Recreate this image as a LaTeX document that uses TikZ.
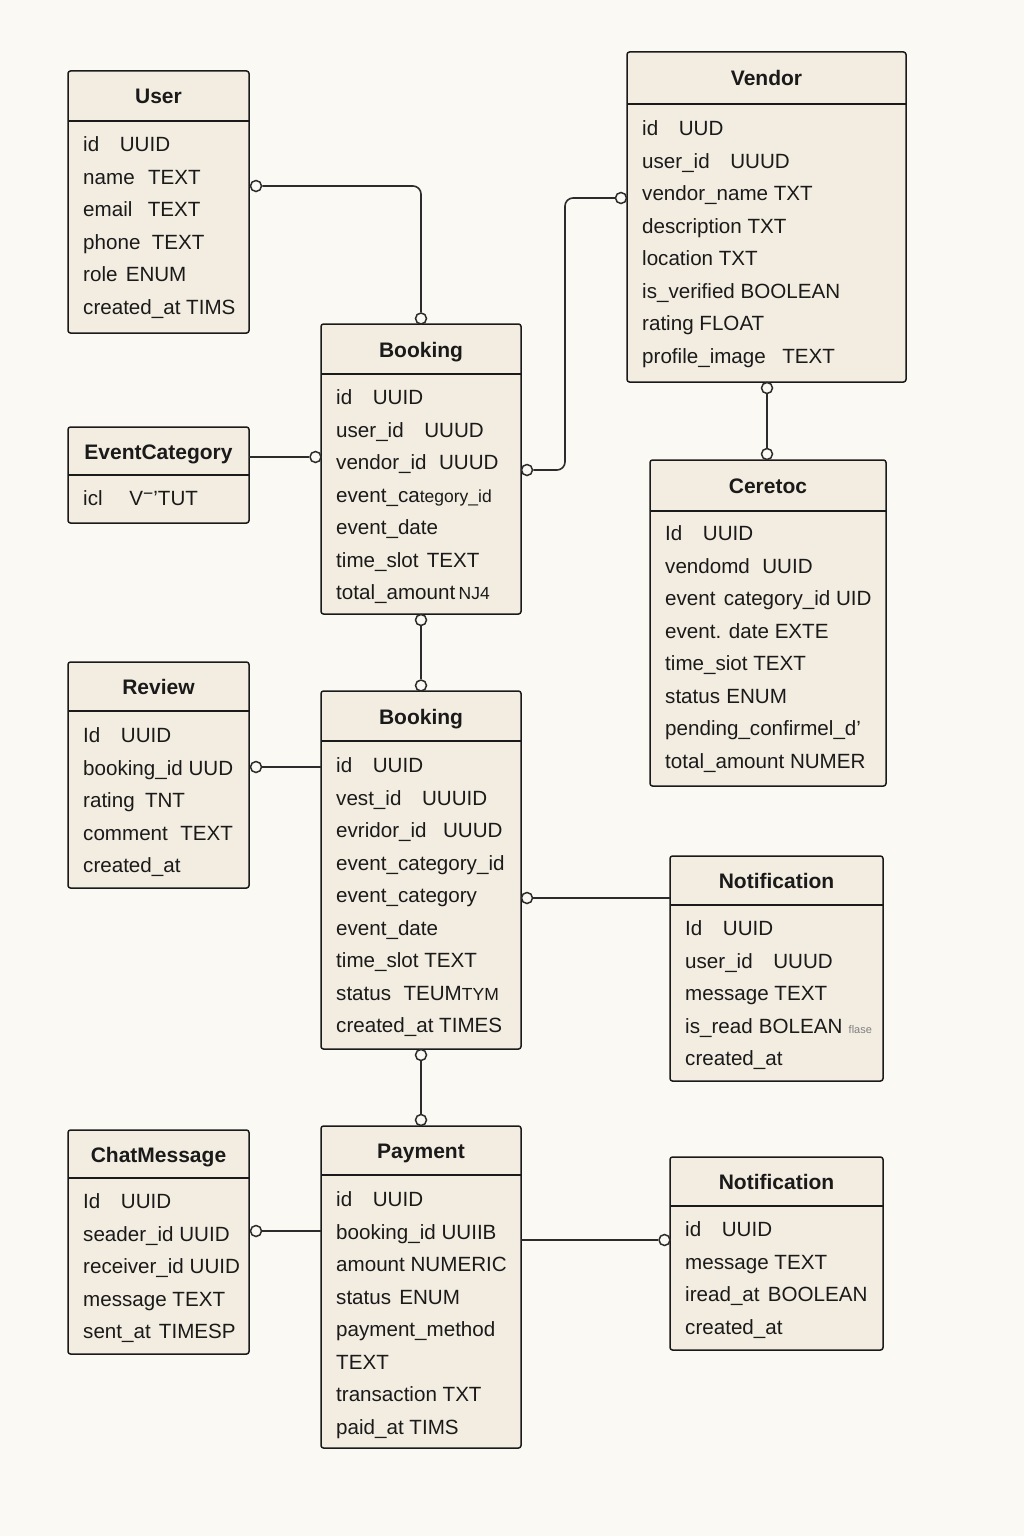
\documentclass[tikz,border=0pt]{standalone}
\usepackage{fontspec}
\setmainfont{Liberation Sans}
\usetikzlibrary{calc}

\definecolor{pagebg}{HTML}{FBF9F4}
\definecolor{boxfill}{HTML}{F3EDE1}
\definecolor{ink}{HTML}{1A1A1A}
\definecolor{wire}{HTML}{2C2C2C}

% extra horizontal gap between a column name and its type
\newcommand{\gp}[1]{\hspace{#1em}}
\newcommand{\smallf}{\fontsize{17.5}{18}\selectfont}
\newcommand{\tinyf}{\fontsize{11}{12}\selectfont\color{gray}}

\tikzset{
  entity/.style={draw=ink, line width=1.5pt, fill=boxfill, rounded corners=2.5pt, inner sep=0pt, outer sep=0pt},
  rule/.style={draw=ink, line width=1.5pt},
  title/.style={font=\fontsize{21}{24}\selectfont\bfseries, text=ink, anchor=base, inner sep=0pt},
  field/.style={font=\fontsize{20.6}{24}\selectfont, text=ink, anchor=base west, inner sep=0pt},
  link/.style={draw=wire, line width=1.6pt, rounded corners=8pt},
  port/.style={circle, draw=wire, line width=1.5pt, fill=pagebg, minimum size=11pt, inner sep=0pt},
}

% #1 name, #2 left, #3 top, #4 right, #5 bottom, #6 header rule, #7 title, #8 first row, #9 rows
\newcommand{\entity}[9]{%
  \node[entity, minimum width={(#4-#2)*1pt}, minimum height={(#5-#3)*1pt}] (#1) at ({(#2+#4)/2},{(#3+#5)/2}) {};
  \draw[rule] (#1.west |- 0,#6) -- (#1.east |- 0,#6);
  \node[title] (#1-title) at ({(#2+#4)/2},{(#3+#6)/2+8}) {#7};
  \foreach \f [count=\i from 0] in {#9} {\node[field] (#1-r\i) at ({#2+15},{#8+\i*32.5+7.6}) {\f};}
}

\begin{document}
\begin{tikzpicture}[x=1pt,y=-1pt]
\fill[pagebg] (0,0) rectangle (1024,1536);
\useasboundingbox (0,0) rectangle (1024,1536);

% ---- tables ----
\entity{user}{68}{71}{249}{333}{121}{User}{144}{%
  id\gp{1}UUID, name\gp{.65}TEXT, email\gp{.75}TEXT, phone\gp{.55}TEXT, role\gp{.4}ENUM, created\_at TIMS}

\entity{vendor}{627}{52}{906}{382}{104}{Vendor}{128}{%
  id\gp{1}UUD, user\_id\gp{1}UUUD, vendor\_name TXT, description TXT, location TXT,
  is\_verified BOOLEAN, rating FLOAT, profile\_image\gp{.8}TEXT}

\entity{evcat}{68}{427}{249}{523}{475}{EventCategory}{498}{%
  icl\gp{1.3}V\raisebox{.3em}{\smallf −}’TUT}

\entity{booking1}{321}{324}{521}{614}{374}{Booking}{397}{%
  id\gp{1}UUID, user\_id\gp{1}UUUD, vendor\_id\gp{.6}UUUD, event\_ca{\smallf tegory\_id},
  event\_date, time\_slot\gp{.4}TEXT, total\_amount\,{\smallf NJ4}}

\entity{ceretoc}{650}{460}{886}{786}{511}{Ceretoc}{533}{%
  Id\gp{1}UUID, vendomd\gp{.6}UUID, event\gp{.4}category\_id UID, event. date EXTE,
  time\_siot TEXT, status\gp{.3}ENUM, pending\_confirmel\_d’, total\_amount NUMER}

\entity{review}{68}{662}{249}{888}{711}{Review}{735}{%
  Id\gp{1}UUID, booking\_id UUD, rating\gp{.5}TNT, comment\gp{.6}TEXT, created\_at}

\entity{booking2}{321}{691}{521}{1049}{741}{Booking}{765}{%
  id\gp{1}UUID, vest\_id\gp{1}UUUID, evridor\_id\gp{.8}UUUD, event\_category\_id,
  event\_category, event\_date, time\_slot TEXT, status\gp{.6}TEUM{\smallf TYM}, created\_at TIMES}

\entity{notif1}{670}{856}{883}{1081}{905}{Notification}{928}{%
  Id\gp{1}UUID, user\_id\gp{1}UUUD, message TEXT, is\_read\gp{.3}BOLEAN\gp{.3}{\tinyf flase}, created\_at}

\entity{chat}{68}{1130}{249}{1354}{1178}{ChatMessage}{1201}{%
  Id\gp{1}UUID, seader\_id UUID, receiver\_id UUID, message TEXT, sent\_at\gp{.4}TIMESP}

\entity{payment}{321}{1126}{521}{1448}{1175}{Payment}{1199}{%
  id\gp{1}UUID, booking\_id UUIIB, amount NUMERIC, status\gp{.4}ENUM, payment\_method,
  TEXT, transaction TXT, paid\_at TIMS}

\entity{notif2}{670}{1157}{883}{1350}{1206}{Notification}{1229}{%
  id\gp{1}UUID, message TEXT, iread\_at\gp{.4}BOOLEAN, created\_at}

% ---- connection ports ----
\node[port] (pUser)     at (256,186)   {};
\node[port] (pBkTop)    at (421,318.5) {};
\node[port] (pBkLeft)   at (315.5,457) {};
\node[port] (pBkRight)  at (527,470)   {};
\node[port] (pVendor)   at (621,198)   {};
\node[port] (pVdBottom) at (767,388)   {};
\node[port] (pCrTop)    at (767,454)   {};
\node[port] (pBkBottom) at (421,620)   {};
\node[port] (pBk2Top)   at (421,685.5) {};
\node[port] (pReview)   at (256,767)   {};
\node[port] (pBk2Right) at (527,898)   {};
\node[port] (pBk2Bot)   at (421,1055)  {};
\node[port] (pPayTop)   at (421,1120)  {};
\node[port] (pChat)     at (256,1231)  {};
\node[port] (pNotif2)   at (664.5,1240) {};
\coordinate (bend) at (565,470);

% ---- relationships ----
\draw[link] (pUser.east) -| (pBkTop.north);
\draw[link] (evcat.east |- pBkLeft.west) -- (pBkLeft.west);
\draw[link] (pBkRight.east) -| (bend |- pVendor.west) -- (pVendor.west);
\draw[link] (pVdBottom.south) -- (pCrTop.north);
\draw[link] (pBkBottom.south) -- (pBk2Top.north);
\draw[link] (pReview.east) -- (pReview.east -| booking2.west);
\draw[link] (pBk2Right.east) -- (pBk2Right.east -| notif1.west);
\draw[link] (pBk2Bot.south) -- (pPayTop.north);
\draw[link] (pChat.east) -- (pChat.east -| payment.west);
\draw[link] (payment.east |- pNotif2.west) -- (pNotif2.west);

\end{tikzpicture}
\end{document}
